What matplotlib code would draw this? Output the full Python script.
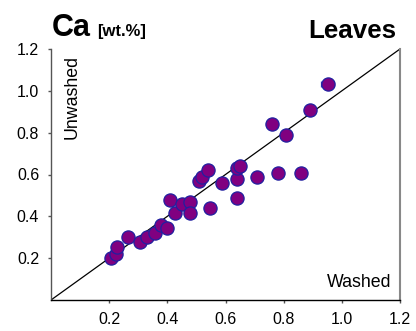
import numpy as np
import matplotlib
matplotlib.use("Agg")
import matplotlib.pyplot as plt

plt.rcParams['font.family'] = ['Liberation Sans', 'DejaVu Sans']

# Ca content: washed (x) vs unwashed (y) leaves, wt.%
washed = [0.205, 0.223, 0.228, 0.266, 0.306, 0.329, 0.357, 0.377, 0.400, 0.408,
          0.428, 0.449, 0.479, 0.479, 0.508, 0.520, 0.539, 0.548, 0.588, 0.639,
          0.639, 0.639, 0.651, 0.710, 0.759, 0.780, 0.808, 0.860, 0.890, 0.951]
unwashed = [0.203, 0.219, 0.251, 0.299, 0.278, 0.299, 0.318, 0.357, 0.346, 0.478,
            0.418, 0.457, 0.468, 0.418, 0.568, 0.589, 0.620, 0.441, 0.557, 0.580,
            0.489, 0.632, 0.643, 0.589, 0.841, 0.608, 0.789, 0.608, 0.910, 1.032]
washed_err = [0.005, 0.005, 0.005, 0.005, 0.005, 0.005, 0.005, 0.005, 0.005, 0.005,
              0.005, 0.005, 0.005, 0.005, 0.005, 0.005, 0.005, 0.005, 0.005, 0.005,
              0.005, 0.005, 0.008, 0.005, 0.010, 0.010, 0.008, 0.018, 0.015, 0.022]
unwashed_err = [0.005] * len(washed)

xticks = [0.2, 0.4, 0.6, 0.8, 1.0, 1.2]
yticks = [0.2, 0.4, 0.6, 0.8, 1.0, 1.2]

fig = plt.figure(figsize=(4.16, 3.31), dpi=100)
ax = fig.add_axes([51 / 416, 31 / 331, 349 / 416, 251 / 331])

ax.plot([0, 1.2], [0, 1.2], color='black', linewidth=0.9, zorder=2)
ax.errorbar(washed, unwashed, xerr=washed_err, yerr=unwashed_err, fmt='o',
            color='#800080', markeredgecolor='#2020a0', markeredgewidth=0.9,
            markersize=9.5, ecolor='#3535c0', elinewidth=1, capsize=2, zorder=3)

ax.set_xlim(0, 1.2)
ax.set_ylim(0, 1.2)
ax.set_xticks(xticks)
ax.set_yticks(yticks)
ax.set_xticklabels([f"{t:.1f}" for t in xticks], fontsize=11.5)
ax.set_yticklabels([f"{t:.1f}" for t in yticks], fontsize=11.5)
ax.tick_params(direction='out', length=2.5, width=1, color='#555555')
ax.tick_params(axis='x', pad=6)
ax.tick_params(axis='y', pad=6)

ax.spines['top'].set_visible(False)
ax.spines['right'].set_color('#888888')
ax.spines['right'].set_linewidth(1.5)
ax.spines['left'].set_color('#555555')
ax.spines['left'].set_linewidth(1)
ax.spines['bottom'].set_linewidth(1)

ax.text(0.035, 0.975, 'Unwashed', rotation=90, ha='left', va='top',
        fontsize=12.8, transform=ax.transAxes)
ax.text(0.975, 0.05, 'Washed', ha='right', va='baseline',
        fontsize=12.8, transform=ax.transAxes)

fig.text(52 / 416, 1 - 36 / 331, 'Ca', fontsize=22, fontweight='bold',
         ha='left', va='baseline')
fig.text(97 / 416, 1 - 36 / 331, '[wt.%]', fontsize=12, fontweight='bold',
         ha='left', va='baseline')
fig.text(396 / 416, 1 - 38 / 331, 'Leaves', fontsize=18.7, fontweight='bold',
         ha='right', va='baseline')

fig.savefig('out.png', dpi=100)
